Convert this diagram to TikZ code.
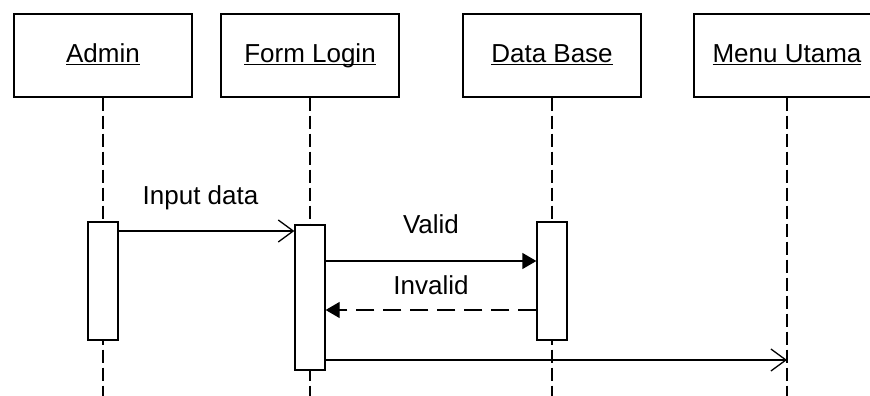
\documentclass[tikz,border=0pt]{standalone}
\usepackage{fontspec}
\setmainfont{Liberation Sans}
\usepackage{tikz}
\usetikzlibrary{
  positioning,
  calc,
  arrows.meta
}
\tikzstyle{actor}=[draw, line width=1.3pt, minimum width=178pt, minimum height=83pt, inner sep=0pt, text height=19pt, text depth=4pt, font=\fontsize{26}{30}\selectfont]
\tikzstyle{lifeline}=[line width=1.3pt, dash pattern=on 13pt off 5pt]
\tikzstyle{activation}=[draw, fill=white, line width=1.3pt, minimum width=30pt, inner sep=0pt]
\tikzstyle{msg}=[line width=1.3pt, -{Straight Barb[length=15pt,width=22pt]}]
\tikzstyle{call}=[line width=1.3pt, -{Triangle[length=14pt,width=16pt]}]
\tikzstyle{reply}=[call, dash pattern=on 18pt off 9pt]
\tikzstyle{msglabel}=[anchor=base, inner sep=0pt, font=\fontsize{26}{30}\selectfont]

\newcommand{\objname}[1]{\underline{\smash{#1}}}

\begin{document}
\begin{tikzpicture}[x=1pt, y=-1pt]
        \useasboundingbox (0,0) rectangle (870,396);

        % よく使う点の座標
        \coordinate (bottom) at (0,396);
        \coordinate (m1) at (0,231);
        \coordinate (m2) at (0,261);
        \coordinate (m3) at (0,310);
        \coordinate (m4) at (0,360);

        % オブジェクト
        \node[actor] (admin) at (103,55.5) {\objname{Admin}};
        \node[actor] (form) at (310,55.5) {\objname{Form Login}};
        \node[actor] (db) at (552,55.5) {\objname{Data Base}};
        \node[actor, minimum width=186pt] (menu) at (787,55.5) {\objname{Menu Utama}};

        % ライフライン
        \draw[lifeline] (admin.south) -- (admin.south |- bottom);
        \draw[lifeline] (form.south) -- (form.south |- bottom);
        \draw[lifeline] (db.south) -- (db.south |- bottom);
        \draw[lifeline] (menu.south) -- (menu.south |- bottom);

        % 活性区間
        \node[activation, minimum height=118pt] (actA) at (103,281) {};
        \node[activation, minimum height=145pt] (actF) at (310,297.5) {};
        \node[activation, minimum height=118pt] (actD) at (552,281) {};

        % メッセージ
        \draw[msg] (actA.east |- m1) -- (actF.west |- m1) node[msglabel, midway, yshift=27pt, xshift=-6pt]{Input data};
        \draw[call] (actF.east |- m2) -- (actD.west |- m2) node[msglabel, midway, yshift=28pt]{Valid};
        \draw[reply] (actD.west |- m3) -- (actF.east |- m3) node[msglabel, midway, yshift=16pt]{Invalid};
        \draw[msg] (actF.east |- m4) -- (menu.south |- m4);
      \end{tikzpicture}
\end{document}
